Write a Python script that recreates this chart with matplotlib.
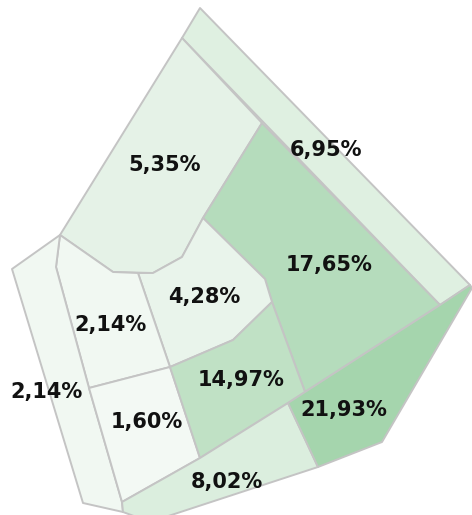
import matplotlib.pyplot as plt
from matplotlib.patches import Polygon
from matplotlib.colors import LinearSegmentedColormap, Normalize

# share of each cell (%)
values = [6.95, 5.35, 17.65, 4.28, 2.14, 2.14, 1.60, 14.97, 8.02, 21.93]
labels = ["6,95%", "5,35%", "17,65%", "4,28%", "2,14%", "2,14%", "1,60%", "14,97%", "8,02%", "21,93%"]

# voronoi cell outlines (pixel space of the original picture, y pointing down)
cells = [
    [(200, 8), (470, 285), (440, 305), (182, 38)],
    [(182, 38), (262, 123), (203, 218), (182, 257), (153, 273), (113, 272), (60, 235)],
    [(262, 123), (440, 305), (305, 392), (272, 302), (265, 279), (203, 218)],
    [(138, 273), (153, 273), (182, 257), (203, 218), (265, 279), (272, 302), (233, 340), (170, 367)],
    [(60, 235), (113, 272), (138, 273), (170, 367), (89, 388), (56, 267)],
    [(60, 235), (56, 267), (89, 388), (122, 502), (123, 512), (83, 503), (12, 269)],
    [(89, 388), (170, 367), (200, 458), (122, 502)],
    [(170, 367), (233, 340), (272, 302), (305, 392), (288, 403), (200, 458)],
    [(122, 502), (200, 458), (288, 403), (318, 467), (150, 522), (123, 512)],
    [(305, 392), (440, 305), (470, 285), (472, 288), (382, 442), (318, 467), (288, 403)],
]

# where the label of each cell sits
label_xy = [(326, 150), (165, 165), (329, 265), (204, 297), (110, 325),
            (47, 392), (147, 422), (241, 380), (227, 482), (344, 410)]

cmap = LinearSegmentedColormap.from_list("greens", ["#f3f9f4", "#a5d5ad"])
norm = Normalize(vmin=min(values), vmax=max(values))

fig = plt.figure(figsize=(4.72, 5.15), dpi=100)
ax = fig.add_axes([0, 0, 1, 1])

for pts, v, lab, (tx, ty) in zip(cells, values, labels, label_xy):
    poly = Polygon(pts, closed=True, facecolor=cmap(norm(v)), edgecolor="#c4c4c4",
                   linewidth=1.4, joinstyle="round")
    ax.add_patch(poly)
    ax.text(tx, ty, lab, ha="center", va="center", fontsize=15,
            fontweight="bold", color="#111111")

ax.set_xlim(0, 472)
ax.set_ylim(515, 0)
ax.axis("off")

fig.savefig("out.png", dpi=100)
